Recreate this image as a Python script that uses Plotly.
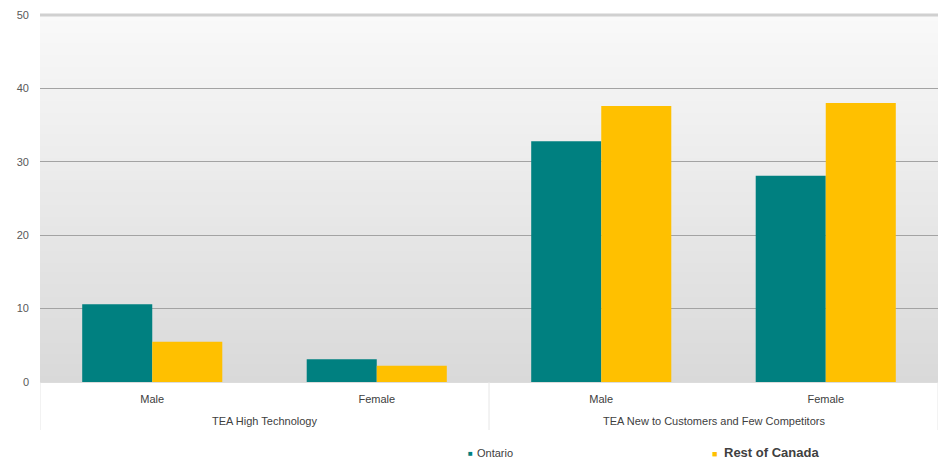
import plotly.graph_objects as go

# Data
groups = ["TEA High Technology", "TEA New to Customers and Few Competitors"]
genders = ["Male", "Female", "Male", "Female"]
group_of_bar = [0, 0, 1, 1]
ontario = [10.6, 3.1, 32.8, 28.1]
rest_of_canada = [5.5, 2.2, 37.6, 38.0]
y_ticks = [0, 10, 20, 30, 40, 50]

TEAL = "#008080"
GOLD = "#FFC000"
FONT = "Liberation Sans, Arial, sans-serif"

W, H = 940, 466
ML, MR, MT, MB = 40, 2, 15, 84
PLOT_H = H - MT - MB

xpos = list(range(len(genders)))

fig = go.Figure()
fig.add_trace(go.Bar(name="Ontario", x=xpos, y=ontario,
                     marker=dict(color=TEAL, line=dict(width=0)), showlegend=False))
fig.add_trace(go.Bar(name="Rest of Canada", x=xpos, y=rest_of_canada,
                     marker=dict(color=GOLD, line=dict(width=0)), showlegend=False))

def px_x(p):
    return (p - ML) / (W - ML - MR)

def px_y(p):
    return (H - MB - p) / PLOT_H

# Vertical grey gradient behind the plot area
shapes = []
n = 120
top_c, bot_c = 249, 217
for i in range(n):
    t0 = i / n
    t1 = (i + 1) / n
    t = (t0 + t1) / 2
    c = round(bot_c + (top_c - bot_c) * t)
    shapes.append(dict(type="rect", xref="x domain", yref="y domain",
                       x0=0, x1=1, y0=t0, y1=min(1, t1 + 0.002),
                       fillcolor=f"rgb({c},{c},{c})", line=dict(width=0), layer="below"))
# lighter top border at the axis maximum
shapes.append(dict(type="line", xref="paper", yref="paper", x0=0, x1=1,
                   y0=1, y1=1, line=dict(color="#d0d0d0", width=3), layer="above"))

# Category group dividers below the axis
n_groups = len(groups)
per_group = len(genders) // n_groups
for g in range(n_groups + 1):
    xd = g * per_group - 0.5
    shapes.append(dict(type="line", xref="x", yref="paper", x0=xd, x1=xd,
                       y0=0, y1=px_y(430), line=dict(color="#e6e6e6", width=1),
                       layer="above"))

annotations = []
# Group labels centred under their categories
for g, name in enumerate(groups):
    members = [x for x, gi in zip(xpos, group_of_bar) if gi == g]
    annotations.append(dict(text=name, x=sum(members) / len(members), y=px_y(421),
                            xref="x", yref="paper", showarrow=False,
                            font=dict(size=11, color="#404040", family=FONT),
                            xanchor="center", yanchor="middle"))

# Legend drawn as text items
annotations += [
    dict(text="■", x=px_x(470), y=px_y(453), xref="paper", yref="paper",
         showarrow=False, font=dict(size=8, color=TEAL, family=FONT),
         xanchor="center", yanchor="middle"),
    dict(text="Ontario", x=px_x(475), y=px_y(453), xref="paper", yref="paper",
         showarrow=False, font=dict(size=11, color="#404040", family=FONT),
         xanchor="left", yanchor="middle"),
    dict(text="■", x=px_x(714), y=px_y(454), xref="paper", yref="paper",
         showarrow=False, font=dict(size=9, color=GOLD, family=FONT),
         xanchor="center", yanchor="middle"),
    dict(text="<b>Rest of Canada</b>", x=px_x(722), y=px_y(452), xref="paper", yref="paper",
         showarrow=False, font=dict(size=13, color="#404040", family=FONT),
         xanchor="left", yanchor="middle"),
]

fig.update_layout(
    width=W, height=H,
    margin=dict(l=ML, r=MR, t=MT, b=MB),
    paper_bgcolor="white",
    plot_bgcolor="rgba(0,0,0,0)",
    barmode="group",
    bargap=0.376,
    bargroupgap=0,
    font=dict(family=FONT, size=11, color="#404040"),
    shapes=shapes,
    annotations=annotations,
    showlegend=False,
)
fig.update_xaxes(
    range=[-0.5, len(genders) - 0.5],
    tickvals=xpos,
    ticktext=genders,
    showgrid=False,
    showline=False,
    zeroline=False,
    ticks="",
    ticklabelstandoff=9,
    tickfont=dict(size=11, color="#404040", family=FONT),
)
fig.update_yaxes(
    range=[0, 50],
    tickvals=y_ticks,
    showgrid=True,
    gridcolor="#a3a3a3",
    gridwidth=1.2,
    zeroline=True,
    zerolinecolor="#dcdcdc",
    zerolinewidth=1,
    showline=False,
    ticklabelstandoff=10,
    tickfont=dict(size=11, color="#595959", family=FONT),
)

fig.write_html("out.html")
